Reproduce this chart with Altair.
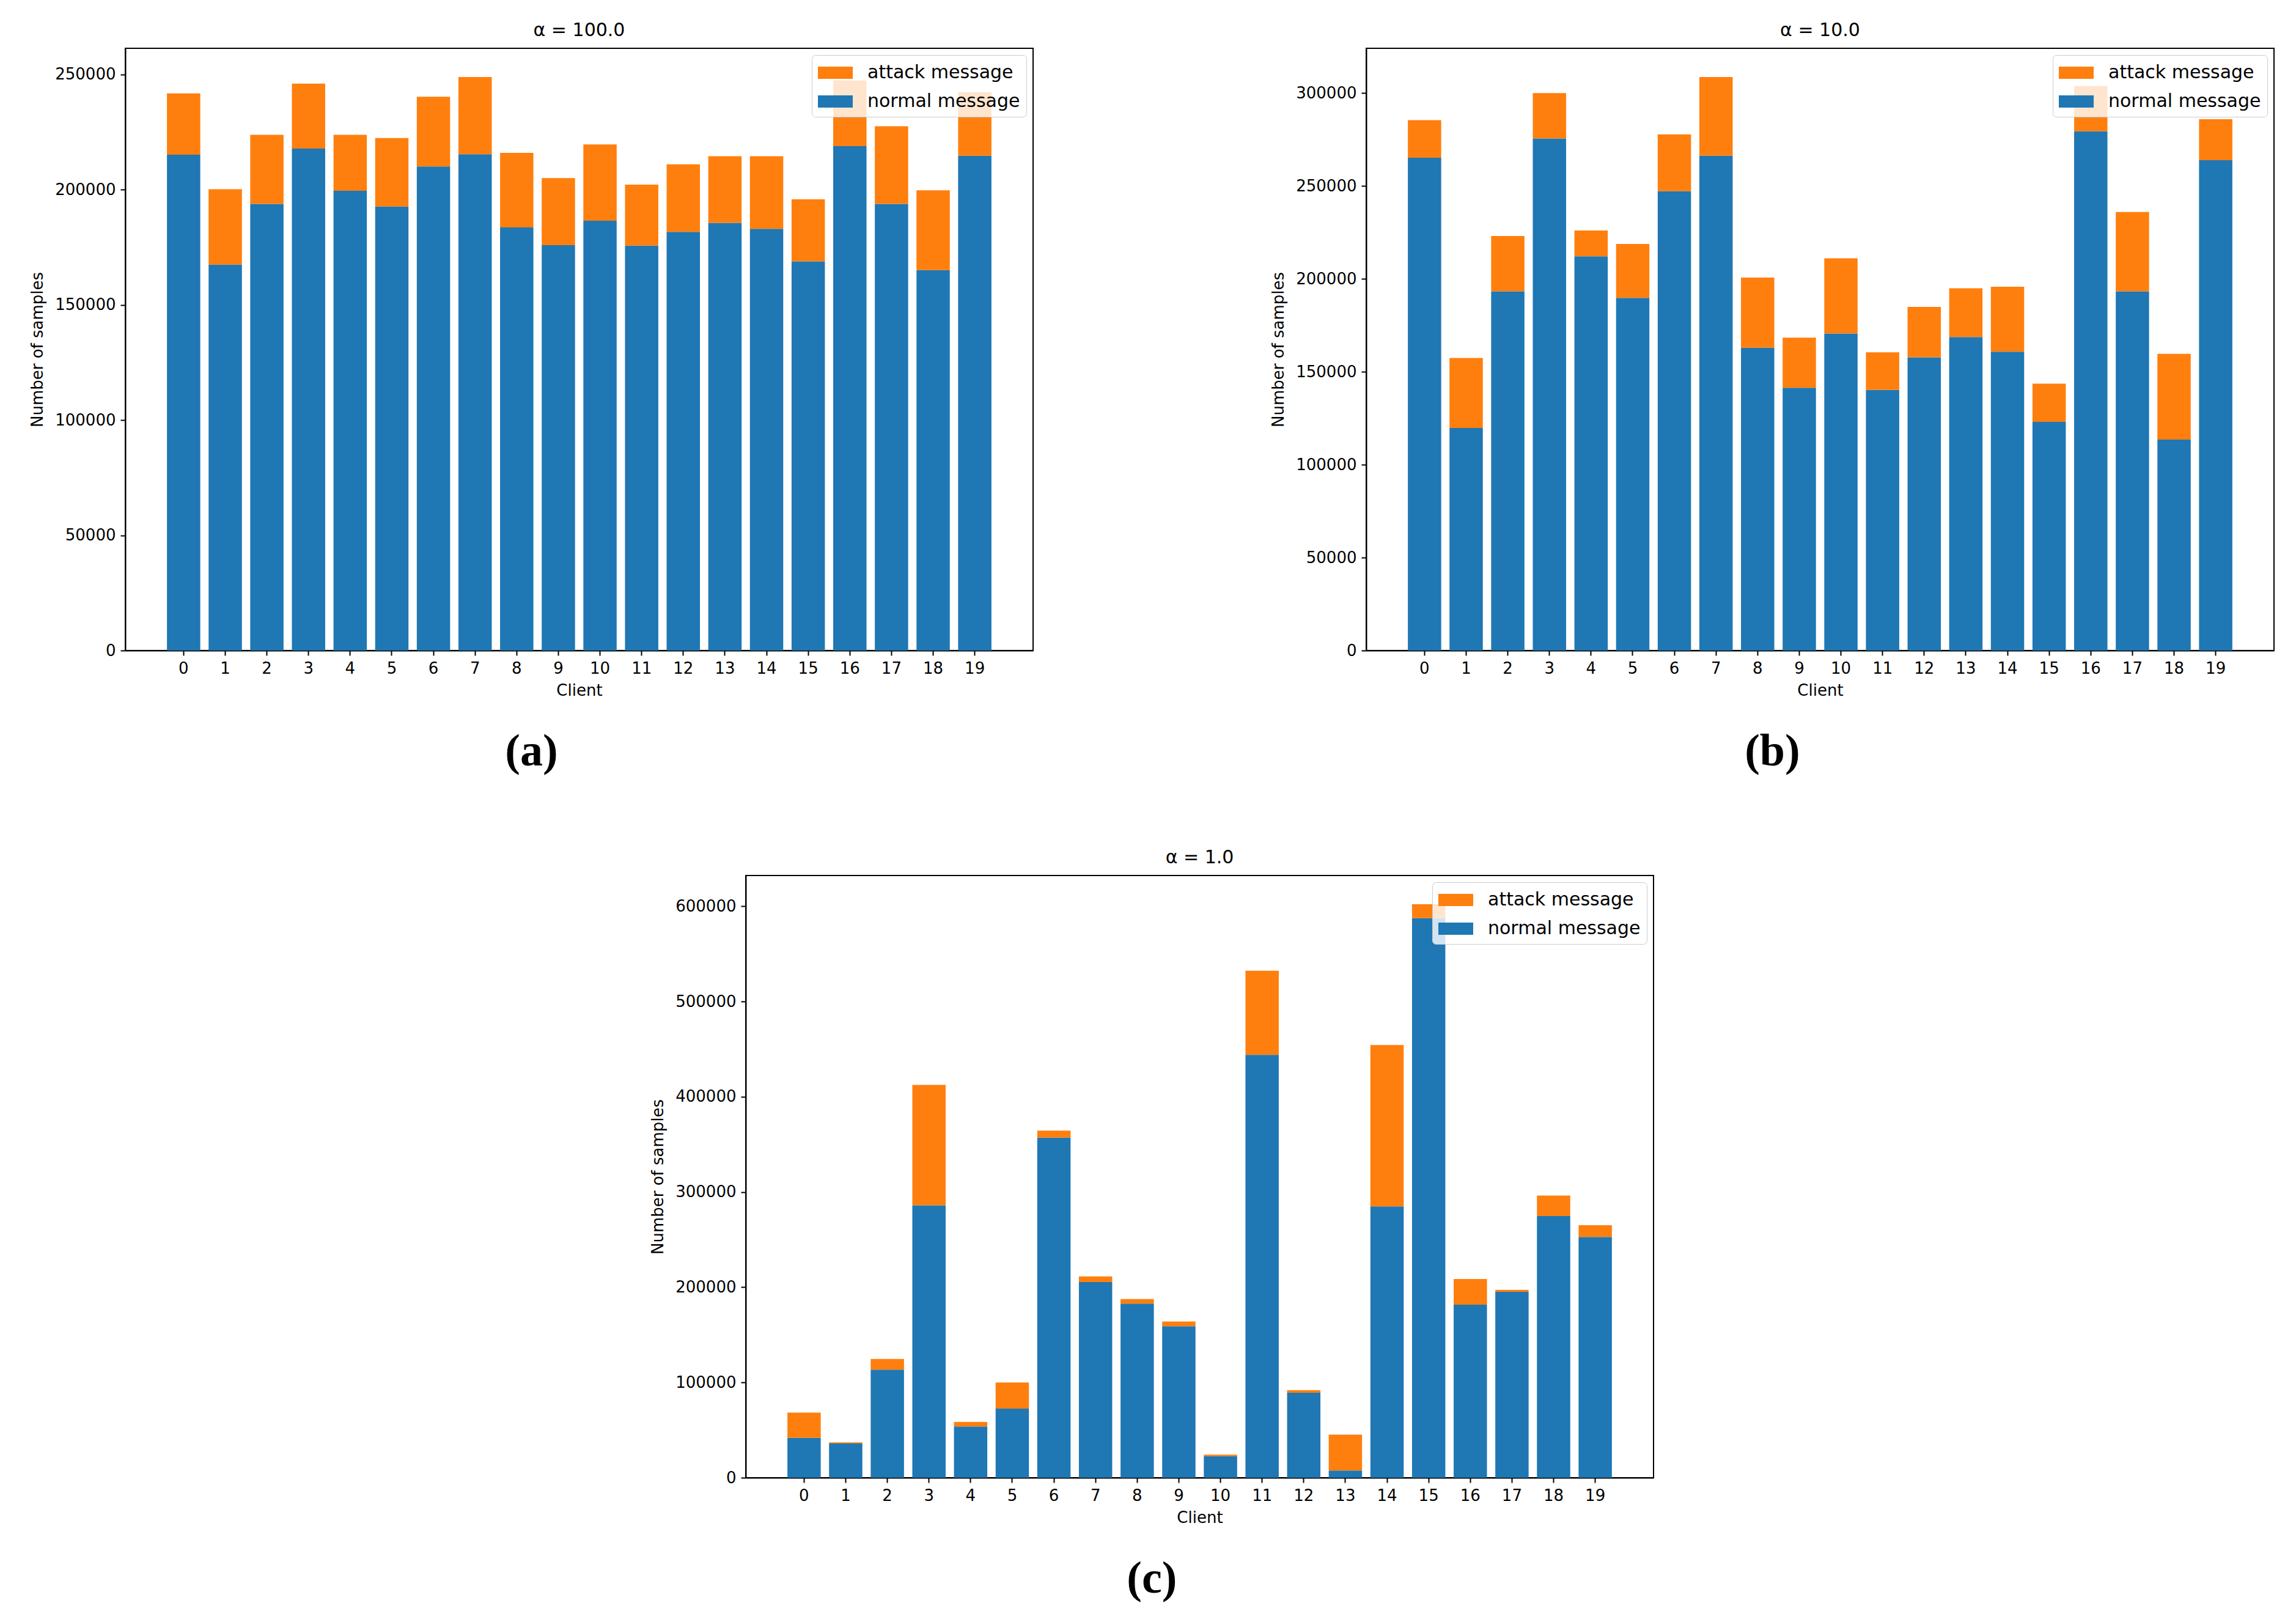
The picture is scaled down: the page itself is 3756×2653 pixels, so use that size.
import altair as alt
import pandas as pd

clients = list(range(20))

# alpha = 100.0
a_total = [241800, 200200, 223800, 246000, 223800, 222400, 240300, 248900, 216000, 205000,
           219600, 202200, 211000, 214500, 214500, 195800, 247400, 227500, 199700, 242300]
a_normal = [215200, 167500, 193800, 217800, 199500, 192700, 210100, 215400, 183600, 175900,
            186500, 175700, 181700, 185600, 183000, 168900, 218900, 193800, 165100, 214700]

# alpha = 10.0
b_total = [285500, 157500, 223100, 300000, 226100, 218800, 277800, 308700, 200700, 168400,
           211100, 160500, 184900, 195000, 195800, 143600, 303800, 236000, 159700, 286000]
b_normal = [265200, 119800, 193300, 275600, 212200, 189800, 247200, 266300, 163000, 141400,
            170600, 140300, 157800, 168700, 160800, 123100, 279500, 193300, 113500, 263900]

# alpha = 1.0
c_total = [68300, 37100, 124700, 412400, 58600, 100000, 364500, 211300, 187600, 164000,
           24200, 532300, 91900, 45200, 454300, 602200, 208600, 197300, 296200, 265100]
c_normal = [41900, 36000, 113400, 286000, 53800, 72600, 357000, 205400, 182800, 159100,
            22600, 444100, 89200, 7500, 284900, 587600, 181700, 195200, 274700, 252700]

kinds = ["attack message", "normal message"]
colors = ["#ff7f0e", "#1f77b4"]

FONT = "DejaVu Sans"
PW, PH = 1485, 985


def panel(total, normal, title, ticks, sub):
    df = pd.DataFrame({
        "client": clients * 2,
        "kind": ["normal message"] * 20 + ["attack message"] * 20,
        "value": normal + [t - n for t, n in zip(total, normal)],
        "ord": [0] * 20 + [1] * 20,
    })
    ymax = max(total) * 1.05
    bars = alt.Chart(df).mark_bar().encode(
        x=alt.X("client:O", title="Client",
                scale=alt.Scale(paddingInner=0.2, paddingOuter=1.0),
                axis=alt.Axis(labelAngle=0, titlePadding=10)),
        y=alt.Y("value:Q", stack="zero", title="Number of samples",
                scale=alt.Scale(domain=[0, ymax], nice=False),
                axis=alt.Axis(values=ticks, format="d", titlePadding=15)),
        color=alt.Color("kind:N",
                        scale=alt.Scale(domain=kinds, range=colors),
                        legend=alt.Legend(title=None, orient="top-right", offset=11,
                                          padding=10, fillColor="rgba(255,255,255,0.8)",
                                          strokeColor="#cccccc", cornerRadius=6,
                                          symbolType="M-1,-0.53H2V0.53H-1Z", symbolSize=1444,
                                          symbolStrokeWidth=0, symbolOpacity=1,
                                          labelFontSize=30, labelOffset=43, rowPadding=13,
                                          labelLimit=500, labelColor="black", labelFont=FONT)),
        order=alt.Order("ord:Q"),
    ).properties(
        width=PW, height=PH,
        title=alt.Title(title, fontSize=30, fontWeight="normal", font=FONT,
                        baseline="alphabetic", offset=-10, color="black"),
    )
    return alt.vconcat(bars).properties(
        title=alt.Title(sub, orient="bottom", fontSize=74, font="Liberation Serif",
                        fontWeight="bold", offset=51, anchor="middle", color="black")
    ).resolve_scale(color="independent").resolve_legend(color="independent")


pa = panel(a_total, a_normal, "α = 100.0", list(range(0, 250001, 50000)), "(a)")
pb = panel(b_total, b_normal, "α = 10.0", list(range(0, 300001, 50000)), "(b)")
pc = panel(c_total, c_normal, "α = 1.0", list(range(0, 600001, 100000)), "(c)")

top = alt.hconcat(pa, pb, spacing=386).resolve_scale(color="independent").resolve_legend(color="independent")

chart = alt.vconcat(top, pc, spacing=120, center=True).resolve_scale(
    color="independent").resolve_legend(color="independent").properties(
    padding={"left": 39, "top": 26, "right": 5, "bottom": 5}
).configure(font=FONT).configure_view(
    stroke="black", strokeWidth=2
).configure_axis(
    domainColor="black", domainWidth=2, tickColor="black", tickWidth=2, tickSize=8,
    labelFontSize=26, labelColor="black", labelFont=FONT, labelPadding=8,
    titleFontSize=26, titleFontWeight="normal", titleColor="black", titleFont=FONT,
    grid=False
)

chart.save("out.html", embed_options={"renderer": "svg", "actions": False})
